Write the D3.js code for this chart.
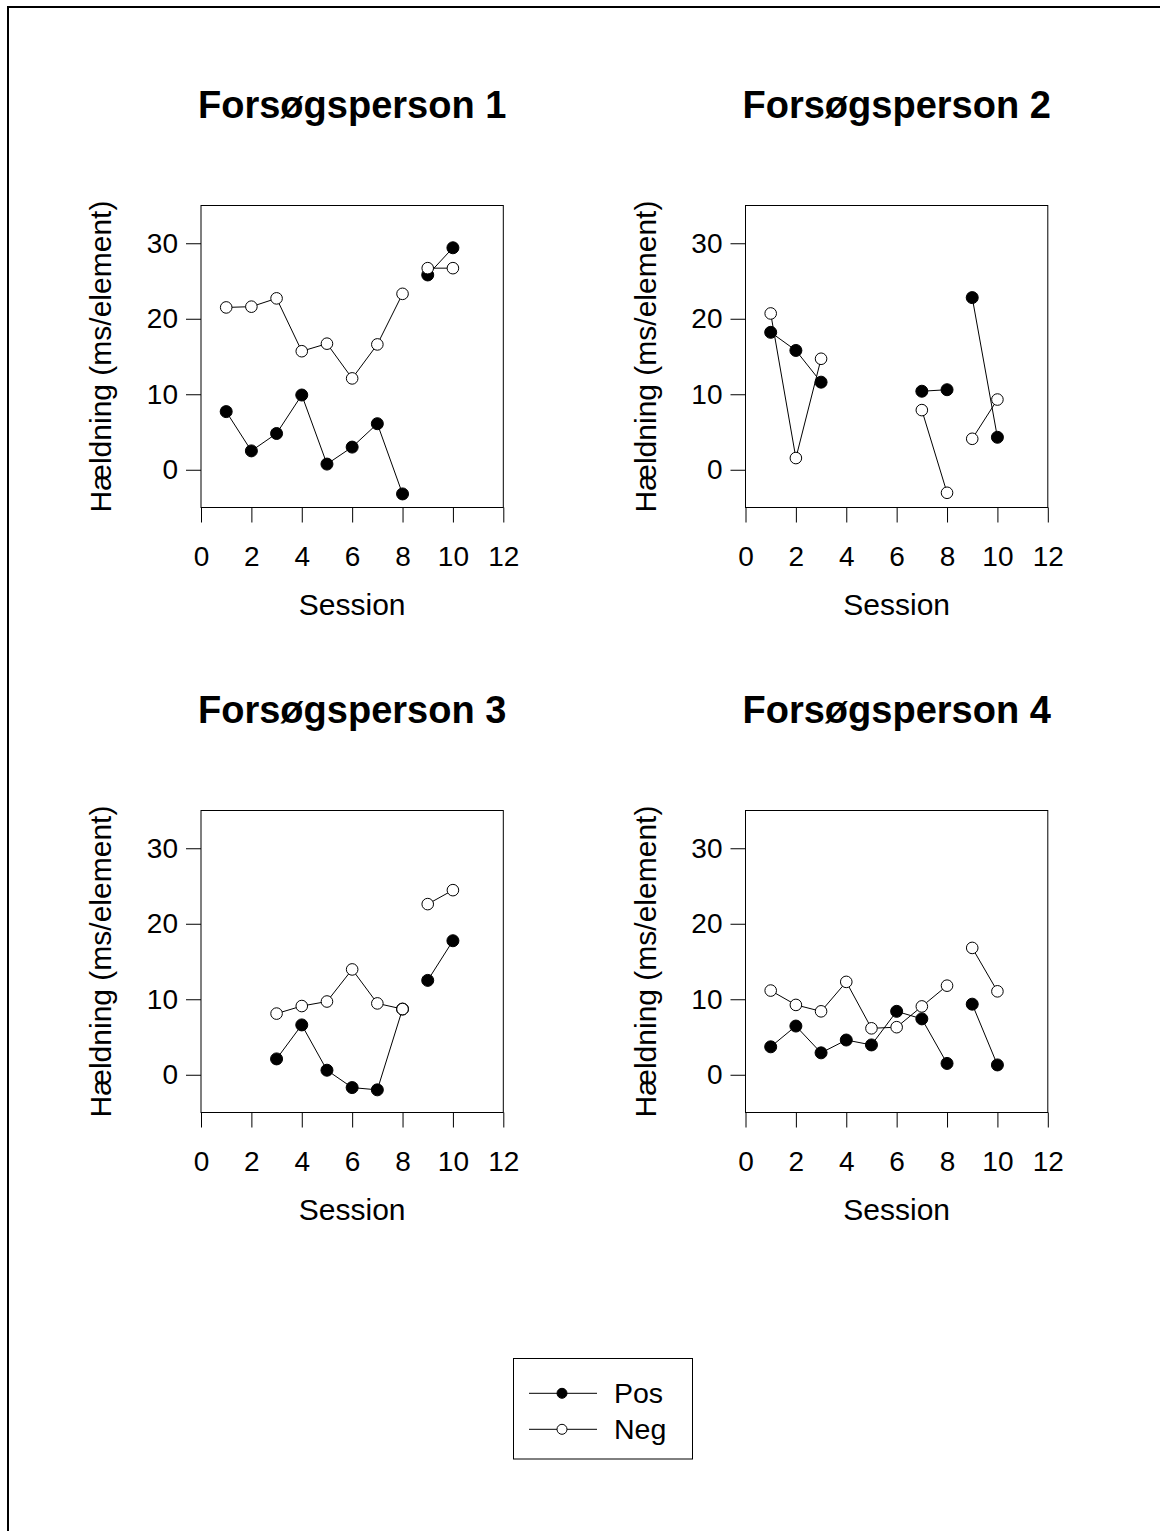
<!DOCTYPE html>
<html>
<head>
<meta charset="utf-8">
<script src="https://cdn.jsdelivr.net/npm/d3@7"></script>
<style>
  html, body { margin: 0; padding: 0; background: #fff; }
  svg { display: block; font-family: "Liberation Sans", Arial, sans-serif; }
</style>
</head>
<body>
<script>
// ---------- data ----------
const sessions = [1, 2, 3, 4, 5, 6, 7, 8, 9, 10];
const sessionBlock = [1, 1, 1, 1, 1, 1, 1, 1, 2, 2]; // lines are not drawn between blocks
const xTicks = [0, 2, 4, 6, 8, 10, 12];
const yTicks = [0, 10, 20, 30];
const seriesNames = ["Pos", "Neg"];
const panelTitles = ["Forsøgsperson 1", "Forsøgsperson 2", "Forsøgsperson 3", "Forsøgsperson 4"];
const xLabel = "Session";
const yLabel = "Hældning (ms/element)";

const p1Pos = [7.7, 2.5, 4.8, 9.9, 0.75, 3.0, 6.1, -3.2, 25.8, 29.4];
const p1Neg = [21.5, 21.6, 22.7, 15.7, 16.7, 12.1, 16.6, 23.3, 26.7, 26.7];
const p2Pos = [18.2, 15.8, 11.6, null, null, null, 10.4, 10.6, 22.8, 4.3];
const p2Neg = [20.7, 1.55, 14.7, null, null, null, 7.9, -3.05, 4.1, 9.3];
const p3Pos = [null, null, 2.1, 6.6, 0.6, -1.7, -2.0, 8.7, 12.5, 17.75];
const p3Neg = [null, null, 8.1, 9.1, 9.7, 13.95, 9.45, 8.7, 22.6, 24.45];
const p4Pos = [3.7, 6.45, 2.9, 4.6, 3.95, 8.4, 7.4, 1.5, 9.35, 1.3];
const p4Neg = [11.15, 9.25, 8.4, 12.3, 6.15, 6.3, 9.05, 11.8, 16.8, 11.05];

const panelPos = [p1Pos, p2Pos, p3Pos, p4Pos];
const panelNeg = [p1Neg, p2Neg, p3Neg, p4Neg];

// ---------- layout ----------
const WIDTH = 1160, HEIGHT = 1531;
const colLeft = [201, 745.5];
const rowTop = [205.5, 810.5];
const PW = 302.3, PH = 302;

const svg = d3.select("body").append("svg")
  .attr("width", WIDTH).attr("height", HEIGHT);

svg.append("rect").attr("width", WIDTH).attr("height", HEIGHT).attr("fill", "#fff");

// outer frame (left and top edges visible)
svg.append("path")
  .attr("d", "M8,1531 V7 H1160")
  .attr("fill", "none").attr("stroke", "#000").attr("stroke-width", 2);

const x = d3.scaleLinear().domain([0, 12]).range([0, PW]);
const y = d3.scaleLinear().domain([-5, 35]).range([PH, 0]);

panelTitles.forEach((title, i) => {
  const col = i % 2, row = Math.floor(i / 2);
  const g = svg.append("g").attr("transform", `translate(${colLeft[col]},${rowTop[row]})`);

  // title
  g.append("text")
    .attr("x", PW / 2).attr("y", -87.5)
    .attr("text-anchor", "middle")
    .attr("font-size", 38).attr("font-weight", "bold")
    .text(title);

  // y axis
  const ya = g.append("g").call(d3.axisLeft(y).tickValues(yTicks).tickSize(15).tickPadding(8).tickFormat(d3.format("d")));
  ya.select(".domain").remove();
  ya.selectAll("line").attr("stroke", "#000");
  ya.selectAll("text").attr("font-size", 28).attr("fill", "#000").attr("font-family", "Liberation Sans, Arial, sans-serif");

  // x axis
  const xa = g.append("g").attr("transform", `translate(0,${PH})`)
    .call(d3.axisBottom(x).tickValues(xTicks).tickSize(15).tickFormat(d3.format("d")));
  xa.select(".domain").remove();
  xa.selectAll("line").attr("stroke", "#000");
  xa.selectAll("text").attr("font-size", 28).attr("fill", "#000")
    .attr("font-family", "Liberation Sans, Arial, sans-serif")
    .attr("y", 58.5).attr("dy", null);

  // box
  g.append("rect").attr("x", 0).attr("y", 0).attr("width", PW).attr("height", PH)
    .attr("fill", "none").attr("stroke", "#000").attr("stroke-width", 1);

  // axis labels
  g.append("text")
    .attr("x", PW / 2).attr("y", PH + 107.5)
    .attr("text-anchor", "middle").attr("font-size", 30)
    .text(xLabel);
  g.append("text")
    .attr("transform", `translate(-90,${PH / 2}) rotate(-90)`)
    .attr("text-anchor", "middle").attr("font-size", 30)
    .text(yLabel);

  const series = [panelPos[i], panelNeg[i]];
  series.forEach((vals, si) => {
    const pts = sessions.map((s, k) => ({ s, v: vals[k], b: sessionBlock[k] }));
    const blocks = d3.groups(pts, d => d.b);
    const line = d3.line().defined(d => d.v != null).x(d => x(d.s)).y(d => y(d.v));
    blocks.forEach(([b, arr]) => {
      g.append("path").datum(arr).attr("d", line)
        .attr("fill", "none").attr("stroke", "#000").attr("stroke-width", 1);
    });
    g.selectAll(null).data(pts.filter(d => d.v != null)).join("circle")
      .attr("cx", d => x(d.s)).attr("cy", d => y(d.v))
      .attr("r", si === 0 ? 6 : 5.8)
      .attr("fill", si === 0 ? "#000" : "#fff")
      .attr("stroke", "#000").attr("stroke-width", 1);
  });
});

// legend
const lg = svg.append("g");
lg.append("rect").attr("x", 513.5).attr("y", 1358.5).attr("width", 179).attr("height", 100.5)
  .attr("fill", "#fff").attr("stroke", "#000").attr("stroke-width", 1);
const legendRowY = [1393.3, 1429.3];
seriesNames.forEach((name, i) => {
  lg.append("line").attr("x1", 529).attr("x2", 597)
    .attr("y1", legendRowY[i]).attr("y2", legendRowY[i])
    .attr("stroke", "#000").attr("stroke-width", 1);
  lg.append("circle").attr("cx", 562).attr("cy", legendRowY[i]).attr("r", 5)
    .attr("fill", i === 0 ? "#000" : "#fff").attr("stroke", "#000").attr("stroke-width", 1);
  lg.append("text").attr("x", 614).attr("y", legendRowY[i] + 10)
    .attr("font-size", 28.5).text(name);
});
</script>
</body>
</html>
